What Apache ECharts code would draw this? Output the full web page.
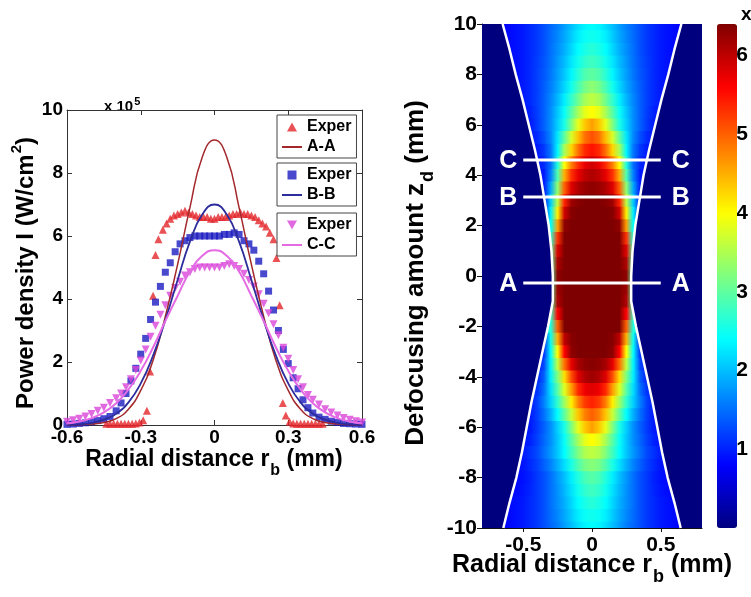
<!DOCTYPE html>
<html><head><meta charset="utf-8">
<script src="https://cdn.jsdelivr.net/npm/echarts@6/dist/echarts.min.js"></script>
<style>html,body{margin:0;padding:0;background:#fff}#c{width:751px;height:597px}</style>
</head><body><div id="c"></div>
<script>
// ---------- left panel: radial power-density profiles (x 10^5 W/cm^2) ----------
const fitR  = [-0.6,-0.55,-0.5,-0.45,-0.4,-0.35,-0.3,-0.25,-0.2,-0.15,-0.1,-0.05,0,0.05,0.1,0.15,0.2,0.25,0.3,0.35,0.4,0.45,0.5,0.55,0.6];
const fitAA = [0,0.01,0.03,0.08,0.2,0.5,1.1,2.05,3.45,5.1,6.9,8.5,9.05,8.5,6.9,5.1,3.45,2.05,1.1,0.5,0.2,0.08,0.03,0.01,0];
const fitBB = [0.01,0.03,0.07,0.17,0.36,0.72,1.32,2.2,3.33,4.6,5.82,6.68,7.0,6.68,5.82,4.6,3.33,2.2,1.32,0.72,0.36,0.17,0.07,0.03,0.01];
const fitCC = [0.05,0.11,0.22,0.4,0.69,1.13,1.72,2.46,3.3,4.1,4.87,5.37,5.55,5.37,4.87,4.1,3.3,2.46,1.72,1.13,0.69,0.4,0.22,0.11,0.05];

const expAR = [-0.44,-0.425,-0.41,-0.395,-0.38,-0.365,-0.35,-0.335,-0.32,-0.305,-0.29,-0.275,-0.262,-0.25,-0.24,-0.228,-0.21,-0.195,-0.18,-0.165,-0.15,-0.135,-0.12,-0.105,-0.09,-0.075,-0.06,-0.045,-0.03,-0.015,0,0.015,0.03,0.045,0.06,0.075,0.09,0.105,0.12,0.135,0.15,0.165,0.18,0.195,0.21,0.225,0.24,0.252,0.265,0.278,0.29,0.305,0.32,0.335,0.35,0.365,0.38,0.395,0.41,0.425,0.44];
const expAI = [0.04,0.04,0.04,0.04,0.04,0.04,0.04,0.04,0.05,0.08,0.15,0.45,1.7,4.1,5.4,5.9,6.2,6.4,6.55,6.65,6.7,6.75,6.8,6.75,6.7,6.65,6.6,6.6,6.6,6.55,6.55,6.6,6.6,6.6,6.65,6.7,6.7,6.75,6.7,6.7,6.65,6.6,6.5,6.4,6.3,6.1,5.9,5.3,3.8,0.7,0.3,0.1,0.05,0.04,0.04,0.04,0.04,0.04,0.04,0.04,0.04];

const expBR = [-0.6,-0.575,-0.55,-0.525,-0.5,-0.475,-0.45,-0.425,-0.4,-0.38,-0.36,-0.34,-0.32,-0.3,-0.28,-0.26,-0.24,-0.22,-0.2,-0.18,-0.16,-0.14,-0.12,-0.1,-0.08,-0.06,-0.04,-0.02,0,0.02,0.04,0.06,0.08,0.1,0.12,0.14,0.16,0.18,0.2,0.22,0.24,0.26,0.28,0.3,0.32,0.34,0.36,0.38,0.4,0.425,0.45,0.475,0.5,0.525,0.55,0.575,0.6];
const expBI = [0.02,0.03,0.05,0.07,0.1,0.14,0.2,0.27,0.45,0.7,1.0,1.4,1.8,2.25,2.75,3.35,3.9,4.4,4.85,5.15,5.5,5.75,5.85,5.95,6.0,6.0,6.0,6.0,6.0,6.0,6.05,6.05,6.1,6.05,5.85,5.75,5.55,5.2,4.8,4.25,3.65,3.0,2.4,1.95,1.5,1.15,0.8,0.55,0.38,0.25,0.18,0.12,0.08,0.05,0.04,0.03,0.02];

const expCR = [-0.6,-0.575,-0.55,-0.525,-0.5,-0.475,-0.45,-0.425,-0.4,-0.38,-0.36,-0.34,-0.32,-0.3,-0.28,-0.26,-0.24,-0.22,-0.2,-0.18,-0.16,-0.14,-0.12,-0.1,-0.08,-0.06,-0.04,-0.02,0,0.02,0.04,0.06,0.08,0.1,0.12,0.14,0.16,0.18,0.2,0.22,0.24,0.26,0.28,0.3,0.32,0.34,0.36,0.38,0.4,0.425,0.45,0.475,0.5,0.525,0.55,0.575,0.6];
const expCI = [0.1,0.15,0.2,0.27,0.35,0.45,0.55,0.7,0.85,1.0,1.2,1.45,1.75,2.05,2.4,2.8,3.15,3.5,3.8,4.1,4.35,4.55,4.75,4.85,4.95,5.0,5.0,5.0,5.0,5.0,5.05,5.1,5.05,4.95,4.8,4.6,4.4,4.15,3.85,3.55,3.2,2.85,2.45,2.1,1.75,1.45,1.2,0.95,0.8,0.65,0.5,0.4,0.3,0.22,0.17,0.12,0.08];

// ---------- right panel: intensity map (axisymmetric beam) ----------
// radial positions r >= 0 at which each row's profile was read; the map is mirror-symmetric about r = 0
const hmR = [0,0.05,0.1,0.15,0.2,0.25,0.3,0.35,0.4,0.45,0.5,0.55,0.6,0.65];
const hmZ = [10,9.5,9,8.5,8,7.5,7,6.5,6,5.5,5,4.5,4,3.5,3,2.5,2,1.5,1,0.5,0,-0.5,-1,-1.5,-2,-2.5,-3,-3.5,-4,-4.5,-5,-5.5,-6,-6.5,-7,-7.5,-8,-8.5,-9,-9.5,-10];
const hmI = [
 [2.4,2.35,2.2,2.0,1.8,1.6,1.45,1.3,1.15,1.05,0.95,0.9,0.85,0.8],
 [2.5,2.45,2.3,2.08,1.85,1.65,1.48,1.3,1.15,1.05,0.95,0.9,0.85],
 [2.65,2.55,2.4,2.15,1.9,1.7,1.5,1.3,1.15,1.05,0.95,0.9,0.85],
 [2.8,2.7,2.5,2.25,1.98,1.75,1.52,1.33,1.18,1.05,0.95,0.9],
 [3.0,2.9,2.65,2.35,2.05,1.8,1.55,1.35,1.2,1.05,0.95,0.9],
 [3.3,3.15,2.85,2.5,2.15,1.85,1.6,1.38,1.2,1.05,0.95,0.9],
 [3.6,3.45,3.1,2.7,2.3,1.95,1.65,1.4,1.2,1.05,0.95],
 [4.0,3.85,3.45,2.95,2.45,2.05,1.68,1.4,1.18,1.0,0.9],
 [4.6,4.35,3.85,3.2,2.55,2.1,1.7,1.4,1.15,0.95],
 [5.1,4.9,4.4,3.75,3.0,2.25,1.65,1.3,1.05,0.95],
 [5.5,5.35,4.9,4.25,3.45,2.35,1.55,1.15,0.95],
 [5.9,5.75,5.35,4.8,4.0,2.6,1.5,1.05,0.9],
 [6.1,6.0,5.75,5.3,4.5,2.9,1.6,0.95],
 [6.3,6.25,6.1,5.8,5.0,3.3,1.85,0.95],
 [6.4,6.4,6.35,6.2,5.4,3.6,2.1,0.9],
 [6.4,6.4,6.4,6.35,5.9,4.1,2.3,1.0],
 [6.4,6.4,6.4,6.4,6.3,4.6,2.4],
 [6.4,6.4,6.4,6.4,6.4,5.3,2.7],
 [6.4,6.4,6.4,6.4,6.4,5.8,3.0],
 [6.4,6.4,6.4,6.4,6.4,6.1,3.0],
 [6.4,6.4,6.4,6.4,6.4,6.3,3.0],
 [6.4,6.4,6.4,6.4,6.4,6.2,3.0],
 [6.4,6.4,6.4,6.4,6.4,6.1,3.0],
 [6.4,6.4,6.4,6.4,6.4,5.6,2.8],
 [6.4,6.4,6.4,6.4,6.4,5.0,2.6],
 [6.4,6.4,6.4,6.35,6.0,4.5,2.5,1.05],
 [6.4,6.4,6.4,6.3,5.6,4.0,2.4,1.1],
 [6.35,6.3,6.15,5.75,4.9,3.6,2.35,1.25,0.95],
 [6.2,6.1,5.8,5.1,4.2,3.2,2.3,1.4,1.0],
 [5.8,5.7,5.35,4.6,3.8,2.95,2.2,1.5,1.1],
 [5.4,5.25,4.8,4.1,3.4,2.7,2.1,1.6,1.2,0.95],
 [5.0,4.8,4.35,3.65,3.0,2.4,1.9,1.5,1.18,0.95],
 [4.6,4.35,3.85,3.2,2.55,2.1,1.7,1.4,1.15,0.95],
 [4.0,3.85,3.45,2.95,2.45,2.05,1.7,1.45,1.2,1.0,0.9],
 [3.6,3.5,3.2,2.8,2.4,2.05,1.75,1.5,1.25,1.1,0.95],
 [3.25,3.15,2.9,2.55,2.2,1.9,1.62,1.4,1.2,1.05,0.92,0.88],
 [2.95,2.85,2.6,2.3,2.0,1.75,1.5,1.3,1.15,1.0,0.9,0.85],
 [2.8,2.7,2.5,2.22,1.95,1.72,1.5,1.3,1.15,1.02,0.92,0.86],
 [2.65,2.55,2.4,2.15,1.9,1.7,1.5,1.3,1.15,1.05,0.95,0.9,0.85],
 [2.5,2.45,2.3,2.08,1.85,1.65,1.48,1.3,1.15,1.05,0.95,0.9,0.85],
 [2.4,2.35,2.2,2.0,1.8,1.6,1.45,1.3,1.15,1.05,0.95,0.9,0.85,0.8]
];
// beam boundary (white curves): half-width read at each defocus
const edgeZ = [10,9,8,7,6,5,4,3,2,1,0,-1,-2,-3,-4,-5,-6,-7,-8,-9,-10];
const edgeR = [0.65,0.60,0.555,0.505,0.46,0.415,0.375,0.345,0.315,0.295,0.285,0.285,0.32,0.36,0.40,0.44,0.475,0.51,0.55,0.60,0.645];
// section lines A-A, B-B, C-C
const sectionNames = ['A','B','C'];
const sectionZ = [-0.28, 3.13, 4.6];
const sectionR = [-0.5, 0.5];
const rightXTicks = [-0.5, 0, 0.5];
const cbTicks = [1,2,3,4,5,6];
const cbMax = 6.4;

// ---------- build ----------
const FONT = '"Liberation Sans", Arial, sans-serif';
const JET = ['#00007F','#0000FF','#007FFF','#00FFFF','#7FFF7F','#FFFF00','#FF7F00','#FF0000','#7F0000'];
const zip = (a, b) => a.map((v, i) => [v, b[i]]);
const lab = (size) => ({fontFamily: FONT, fontWeight: 'bold', fontSize: size, color: '#000'});
const fmt = v => String(Math.round(v * 10) / 10);
const jetColor = v => echarts.color.lerp(Math.max(0, Math.min(1, v / cbMax)), JET);
const halfZ = Math.abs(hmZ[0] - hmZ[1]) / 2;

const legendBase = {
  orient: 'vertical', left: 277, padding: [4, 5, 3, 5], itemGap: 4, itemWidth: 20, itemHeight: 9,
  borderColor: '#444', borderWidth: 1, backgroundColor: '#fff', selectedMode: false,
  textStyle: lab(16), formatter: n => n.indexOf('Exper') === 0 ? 'Exper' : n
};
const LINE_ICON = 'path://M0,0H20V2H0Z';

const axisGray = {onZero: false, lineStyle: {color: '#333', width: 1}};
const tickIn = {show: true, inside: true, length: 5, lineStyle: {color: '#333'}};

const option = {
  animation: false,
  backgroundColor: '#fff',
  grid: [
    {left: 67, top: 110, width: 295, height: 315},
    {left: 482, top: 24, width: 220, height: 504},
    {left: 717, top: 24, width: 20, height: 504}
  ],
  xAxis: [
    {gridIndex: 0, type: 'value', min: -0.6, max: 0.6, interval: 0.3, axisLine: axisGray, axisTick: tickIn,
     axisLabel: {...lab(19), margin: 3, formatter: fmt}, splitLine: {show: false}},
    {gridIndex: 0, type: 'value', position: 'top', min: -0.6, max: 0.6, interval: 0.3, axisLine: axisGray,
     axisTick: tickIn, axisLabel: {show: false}, splitLine: {show: false}},
    {gridIndex: 1, type: 'value', min: -0.8, max: 0.8, axisLine: {onZero: false, lineStyle: {color: '#111'}},
     axisTick: {customValues: rightXTicks, length: 4, lineStyle: {color: '#111'}},
     axisLabel: {customValues: rightXTicks, ...lab(21), margin: 7, formatter: fmt}, splitLine: {show: false}},
    {gridIndex: 2, type: 'value', min: 0, max: 1, show: false}
  ],
  yAxis: [
    {gridIndex: 0, type: 'value', min: 0, max: 10, interval: 2, axisLine: {show: true, ...axisGray}, axisTick: tickIn,
     axisLabel: {...lab(19), margin: 4}, splitLine: {show: false}},
    {gridIndex: 0, type: 'value', position: 'right', min: 0, max: 10, interval: 2, axisLine: {show: true, ...axisGray},
     axisTick: tickIn, axisLabel: {show: false}, splitLine: {show: false}},
    {gridIndex: 1, type: 'value', min: -10, max: 10, interval: 2, axisLine: {show: true, onZero: false, lineStyle: {color: '#111'}},
     axisTick: {show: true, length: 5, lineStyle: {color: '#111'}},
     axisLabel: {...lab(21), margin: 5}, splitLine: {show: false}},
    {gridIndex: 2, type: 'value', position: 'right', min: 0, max: cbMax, axisLine: {show: false, onZero: false},
     axisTick: {show: true, inside: true, length: 4, customValues: cbTicks, lineStyle: {color: '#333'}},
     axisLabel: {customValues: cbTicks, ...lab(21), margin: 4}, splitLine: {show: false}},
    {gridIndex: 2, type: 'value', position: 'left', min: 0, max: cbMax, axisLine: {show: false, onZero: false},
     axisTick: {show: true, inside: true, length: 4, customValues: cbTicks, lineStyle: {color: '#333'}},
     axisLabel: {show: false}, splitLine: {show: false}}
  ],
  visualMap: {
    type: 'continuous', min: 0, max: cbMax, dimension: 2, seriesIndex: 6, calculable: false,
    left: 717, top: 24, itemWidth: 20, itemHeight: 504, padding: 0, text: null, hoverLink: false,
    inRange: {color: JET}
  },
  legend: [
    {...legendBase, top: 115, data: [{name: 'Exper A', icon: 'path://M5,0L10,9L0,9Z'}, {name: 'A-A', icon: LINE_ICON}]},
    {...legendBase, top: 163, data: [{name: 'Exper B', icon: 'path://M0,0H8V8H0Z'}, {name: 'B-B', icon: LINE_ICON}]},
    {...legendBase, top: 213, data: [{name: 'Exper C', icon: 'path://M0,0H10L5,9Z'}, {name: 'C-C', icon: LINE_ICON}]}
  ],
  series: [
    {name: 'Exper A', type: 'scatter', symbol: 'triangle', symbolSize: 8, itemStyle: {color: '#E3262B'}, data: zip(expAR, expAI)},
    {name: 'A-A', type: 'line', smooth: true, symbol: 'none', lineStyle: {color: '#A3282C', width: 1.5}, itemStyle: {color: '#A3282C'}, data: zip(fitR, fitAA)},
    {name: 'Exper B', type: 'scatter', symbol: 'rect', symbolSize: 7, itemStyle: {color: '#1B1BC2'}, data: zip(expBR, expBI)},
    {name: 'B-B', type: 'line', smooth: true, symbol: 'none', lineStyle: {color: '#2C2C9C', width: 1.8}, itemStyle: {color: '#2C2C9C'}, data: zip(fitR, fitBB)},
    {name: 'Exper C', type: 'scatter', symbol: 'triangle', symbolRotate: 180, symbolSize: 8, itemStyle: {color: '#D945D9'}, data: zip(expCR, expCI)},
    {name: 'C-C', type: 'line', smooth: true, symbol: 'none', lineStyle: {color: '#E56BE5', width: 2}, itemStyle: {color: '#E56BE5'}, data: zip(fitR, fitCC)},
    {
      // intensity map: one shaded strip per read row, colour stops at each read radius (mirrored to -r)
      type: 'custom', xAxisIndex: 2, yAxisIndex: 2, z: 1, silent: true,
      data: hmZ.map((z, i) => [0, z, i]), encode: {x: 0, y: 1},
      renderItem: function (params, api) {
        const i = api.value(2), z = api.value(1);
        const row = hmI[i];
        const rMax = hmR[row.length - 1];
        const cs = params.coordSys;
        const xa = api.coord([-rMax, z])[0], xb = api.coord([rMax, z])[0];
        const stops = [];
        for (let j = row.length - 1; j > 0; j--) stops.push({offset: (api.coord([-hmR[j], z])[0] - xa) / (xb - xa), color: jetColor(row[j])});
        for (let j = 0; j < row.length; j++) stops.push({offset: (api.coord([hmR[j], z])[0] - xa) / (xb - xa), color: jetColor(row[j])});
        const yTop = api.coord([0, z + halfZ])[1], yBot = api.coord([0, z - halfZ])[1];
        const shape = echarts.graphic.clipRectByRect(
          {x: cs.x, y: yTop, width: cs.width, height: yBot - yTop + 0.6},
          {x: cs.x, y: cs.y, width: cs.width, height: cs.height});
        if (!shape) return;
        return {type: 'rect', shape: shape, style: {fill: new echarts.graphic.LinearGradient(xa, 0, xb, 0, stops, true)}};
      }
    },
    {
      type: 'custom', xAxisIndex: 2, yAxisIndex: 2, z: 3, silent: true, data: [[0, 0]],
      renderItem: function (params, api) {
        const cs = params.coordSys;
        const L = [[cs.x, cs.y]], R = [[cs.x + cs.width, cs.y]];
        edgeZ.forEach((z, i) => { L.push(api.coord([-edgeR[i], z])); R.push(api.coord([edgeR[i], z])); });
        L.push([cs.x, cs.y + cs.height]); R.push([cs.x + cs.width, cs.y + cs.height]);
        return {type: 'group', children: [
          {type: 'polygon', shape: {points: L}, style: {fill: JET[0]}},
          {type: 'polygon', shape: {points: R}, style: {fill: JET[0]}}
        ]};
      }
    },
    {type: 'line', xAxisIndex: 2, yAxisIndex: 2, z: 5, symbol: 'none', silent: true, lineStyle: {color: '#fff', width: 2.5}, data: zip(edgeR.map(v => -v), edgeZ)},
    {type: 'line', xAxisIndex: 2, yAxisIndex: 2, z: 5, symbol: 'none', silent: true, lineStyle: {color: '#fff', width: 2.5}, data: zip(edgeR, edgeZ)},
    ...sectionNames.map((nm, k) => ({
      type: 'line', xAxisIndex: 2, yAxisIndex: 2, symbol: 'none', z: 6, silent: true,
      lineStyle: {color: '#fff', width: 3}, data: sectionR.map(r => [r, sectionZ[k]])
    })),
    {
      type: 'custom', xAxisIndex: 2, yAxisIndex: 2, z: 7, silent: true,
      data: sectionNames.map((nm, k) => [sectionR[0], sectionZ[k], k]),
      renderItem: function (params, api) {
        const k = api.value(2), z = api.value(1);
        const pl = api.coord([sectionR[0], z]), pr = api.coord([sectionR[1], z]);
        const st = {fontFamily: FONT, fontWeight: 'bold', fontSize: 25, fill: '#fff', verticalAlign: 'middle'};
        return {type: 'group', children: [
          {type: 'text', x: pl[0] - 6, y: pl[1] + 1, style: {...st, text: sectionNames[k], align: 'right'}},
          {type: 'text', x: pr[0] + 11, y: pr[1] + 1, style: {...st, text: sectionNames[k], align: 'left'}}
        ]};
      }
    }
  ],
  graphic: [
    {type: 'text', x: 104, y: 96, style: {text: '{n|x 10}{p|5}', rich: {
      n: {fontFamily: FONT, fontWeight: 'bold', fontSize: 15, fill: '#000'},
      p: {fontFamily: FONT, fontWeight: 'bold', fontSize: 11, fill: '#000', padding: [0, 0, 10, 1]}}}},
    {type: 'text', x: 214, y: 460, style: {text: '{n|Radial distance r}{s|b}{n| (mm)}', align: 'center', verticalAlign: 'middle', rich: {
      n: {fontFamily: FONT, fontWeight: 'bold', fontSize: 23, fill: '#000'},
      s: {fontFamily: FONT, fontWeight: 'bold', fontSize: 16, fill: '#000', padding: [22, 0, 0, 1]}}}},
    {type: 'text', x: 26, y: 273, rotation: Math.PI / 2, style: {text: '{n|Power density I (W/cm}{p|2}{n|)}', align: 'center', verticalAlign: 'middle', rich: {
      n: {fontFamily: FONT, fontWeight: 'bold', fontSize: 24, fill: '#000'},
      p: {fontFamily: FONT, fontWeight: 'bold', fontSize: 15, fill: '#000', padding: [0, 0, 18, 1]}}}},
    {type: 'text', x: 592, y: 565, style: {text: '{n|Radial distance r}{s|b}{n| (mm)}', align: 'center', verticalAlign: 'middle', rich: {
      n: {fontFamily: FONT, fontWeight: 'bold', fontSize: 25, fill: '#000'},
      s: {fontFamily: FONT, fontWeight: 'bold', fontSize: 18, fill: '#000', padding: [24, 0, 0, 1]}}}},
    {type: 'text', x: 416, y: 273, rotation: Math.PI / 2, style: {text: '{n|Defocusing amount z}{s|d}{n| (mm)}', align: 'center', verticalAlign: 'middle', rich: {
      n: {fontFamily: FONT, fontWeight: 'bold', fontSize: 26, fill: '#000'},
      s: {fontFamily: FONT, fontWeight: 'bold', fontSize: 18, fill: '#000', padding: [24, 0, 0, 1]}}}},
    {type: 'text', x: 741, y: 2, style: {text: '{n|x 10}{p|5}', rich: {
      n: {fontFamily: FONT, fontWeight: 'bold', fontSize: 19, fill: '#000'},
      p: {fontFamily: FONT, fontWeight: 'bold', fontSize: 13, fill: '#000', padding: [0, 0, 12, 1]}}}}
  ]
};

const chart = echarts.init(document.getElementById('c'), null, {renderer: 'canvas'});
chart.setOption(option);
</script>
</body></html>
